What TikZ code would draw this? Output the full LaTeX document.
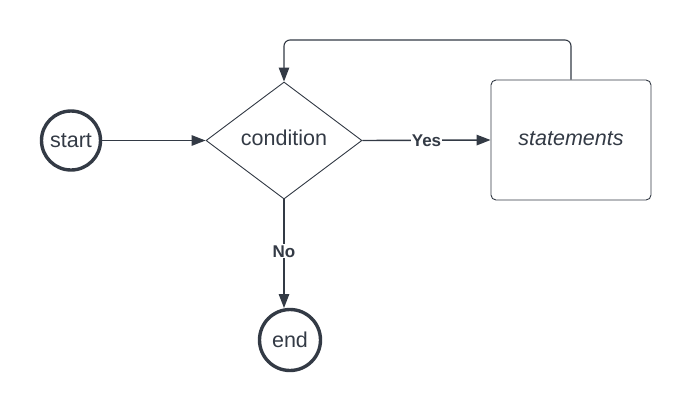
\documentclass[tikz,border=0pt]{standalone}
\usepackage{fontspec}
\setmainfont{Liberation Sans}
\usetikzlibrary{shapes.geometric,arrows.meta}
\definecolor{ink}{HTML}{333A45}
\tikzset{
  termnode/.style={circle,draw=ink,line width=3.4pt,minimum size=59pt,inner sep=0pt,font=\fontsize{21.5}{24}\selectfont,text=ink},
  decnode/.style={diamond,draw=ink,line width=0.9pt,minimum width=156pt,minimum height=117pt,inner sep=0pt,aspect=1.33,text=ink},
  procnode/.style={rectangle,rounded corners=5pt,draw=ink,line width=0.9pt,minimum width=160pt,minimum height=120pt,text=ink},
  bigtext/.style={font=\fontsize{21.5}{24}\selectfont,text=ink},
  arr/.style={draw=ink,line width=1.4pt,-{Triangle[length=14pt,width=10.5pt]}},
  lbl/.style={fill=white,inner sep=1pt,font=\bfseries\fontsize{17}{19}\selectfont,text=ink}
}
\begin{document}
\begin{tikzpicture}[x=1pt,y=-1pt]
\useasboundingbox (0,0) rectangle (692,413);
\node[termnode] (start) at (71,140.5) {start};
\node[decnode] (cond) at (284,140.5) {};
\node[bigtext] (condtext) at (284,137.5) {condition};
\node[procnode] (stmt) at (571,140) {};
\node[bigtext,font=\itshape\fontsize{21.5}{24}\selectfont] (stmttext) at (571,138.5) {statements};
\node[termnode,minimum size=61pt] (end) at (290,340) {end};
\coordinate (endtop) at (284,308);
\draw[arr] (start) -- (cond.west);
\draw[arr] (cond.east) -- node[lbl] (yes) {Yes} (stmt.west);
\draw[arr] (cond.south) -- node[lbl,pos=0.477] (no) {No} (endtop);
\draw[arr,line width=1.1pt,rounded corners=6pt] (stmt.north) |- (284,40) -- (cond.north);
\end{tikzpicture}
\end{document}
